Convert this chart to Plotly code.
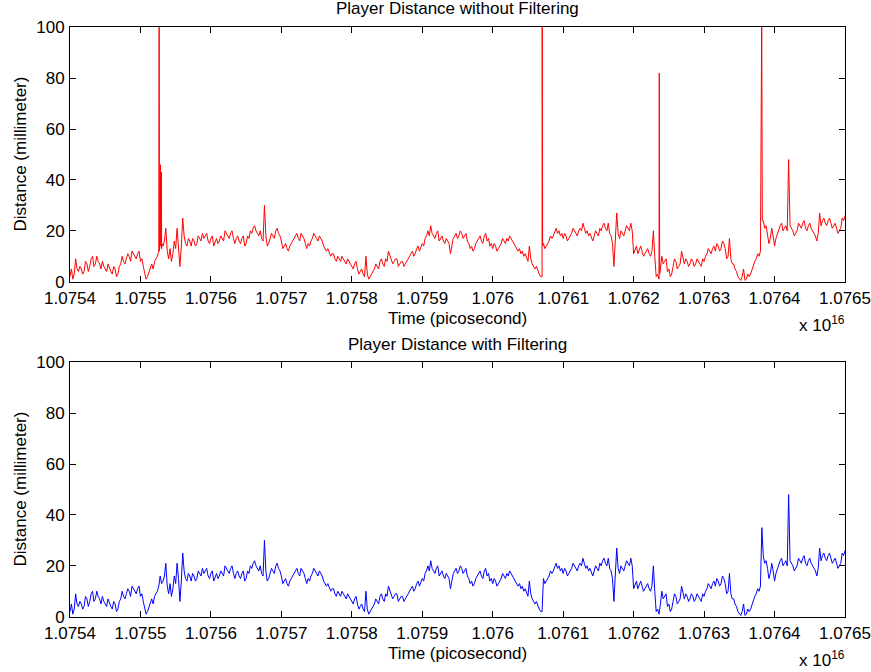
import plotly.graph_objects as go

# Time stamps in units of 1e9 picoseconds (axis shows x 10^16 ps)
time_e9ps = [
    10754000, 10754020, 10754040, 10754060, 10754080, 10754100, 10754120, 10754140, 10754160, 10754180,
    10754200, 10754220, 10754240, 10754260, 10754280, 10754300, 10754320, 10754340, 10754360, 10754380,
    10754400, 10754420, 10754440, 10754460, 10754480, 10754500, 10754520, 10754540, 10754560, 10754580,
    10754600, 10754620, 10754640, 10754660, 10754680, 10754700, 10754720, 10754740, 10754760, 10754780,
    10754800, 10754820, 10754840, 10754860, 10754880, 10754900, 10754920, 10754940, 10754960, 10754980,
    10755000, 10755020, 10755040, 10755060, 10755080, 10755100, 10755120, 10755140, 10755160, 10755180,
    10755200, 10755220, 10755240, 10755260, 10755280, 10755300, 10755320, 10755340, 10755360, 10755380,
    10755400, 10755420, 10755440, 10755460, 10755480, 10755500, 10755520, 10755540, 10755560, 10755580,
    10755600, 10755620, 10755640, 10755660, 10755680, 10755700, 10755720, 10755740, 10755760, 10755780,
    10755800, 10755820, 10755840, 10755860, 10755880, 10755900, 10755920, 10755940, 10755960, 10755980,
    10756000, 10756020, 10756040, 10756060, 10756080, 10756100, 10756120, 10756140, 10756160, 10756180,
    10756200, 10756220, 10756240, 10756260, 10756280, 10756300, 10756320, 10756340, 10756360, 10756380,
    10756400, 10756420, 10756440, 10756460, 10756480, 10756500, 10756520, 10756540, 10756560, 10756580,
    10756600, 10756620, 10756640, 10756660, 10756680, 10756700, 10756720, 10756740, 10756760, 10756780,
    10756800, 10756820, 10756840, 10756860, 10756880, 10756900, 10756920, 10756940, 10756960, 10756980,
    10757000, 10757020, 10757040, 10757060, 10757080, 10757100, 10757120, 10757140, 10757160, 10757180,
    10757200, 10757220, 10757240, 10757260, 10757280, 10757300, 10757320, 10757340, 10757360, 10757380,
    10757400, 10757420, 10757440, 10757460, 10757480, 10757500, 10757520, 10757540, 10757560, 10757580,
    10757600, 10757620, 10757640, 10757660, 10757680, 10757700, 10757720, 10757740, 10757760, 10757780,
    10757800, 10757820, 10757840, 10757860, 10757880, 10757900, 10757920, 10757940, 10757960, 10757980,
    10758000, 10758020, 10758040, 10758060, 10758080, 10758100, 10758120, 10758140, 10758160, 10758180,
    10758200, 10758220, 10758240, 10758260, 10758280, 10758300, 10758320, 10758340, 10758360, 10758380,
    10758400, 10758420, 10758440, 10758460, 10758480, 10758500, 10758520, 10758540, 10758560, 10758580,
    10758600, 10758620, 10758640, 10758660, 10758680, 10758700, 10758720, 10758740, 10758760, 10758780,
    10758800, 10758820, 10758840, 10758860, 10758880, 10758900, 10758920, 10758940, 10758960, 10758980,
    10759000, 10759020, 10759040, 10759060, 10759080, 10759100, 10759120, 10759140, 10759160, 10759180,
    10759200, 10759220, 10759240, 10759260, 10759280, 10759300, 10759320, 10759340, 10759360, 10759380,
    10759400, 10759420, 10759440, 10759460, 10759480, 10759500, 10759520, 10759540, 10759560, 10759580,
    10759600, 10759620, 10759640, 10759660, 10759680, 10759700, 10759720, 10759740, 10759760, 10759780,
    10759800, 10759820, 10759840, 10759860, 10759880, 10759900, 10759920, 10759940, 10759960, 10759980,
    10760000, 10760020, 10760040, 10760060, 10760080, 10760100, 10760120, 10760140, 10760160, 10760180,
    10760200, 10760220, 10760240, 10760260, 10760280, 10760300, 10760320, 10760340, 10760360, 10760380,
    10760400, 10760420, 10760440, 10760460, 10760480, 10760500, 10760520, 10760540, 10760560, 10760580,
    10760600, 10760620, 10760640, 10760660, 10760680, 10760700, 10760720, 10760740, 10760760, 10760780,
    10760800, 10760820, 10760840, 10760860, 10760880, 10760900, 10760920, 10760940, 10760960, 10760980,
    10761000, 10761020, 10761040, 10761060, 10761080, 10761100, 10761120, 10761140, 10761160, 10761180,
    10761200, 10761220, 10761240, 10761260, 10761280, 10761300, 10761320, 10761340, 10761360, 10761380,
    10761400, 10761420, 10761440, 10761460, 10761480, 10761500, 10761520, 10761540, 10761560, 10761580,
    10761600, 10761620, 10761640, 10761660, 10761680, 10761700, 10761720, 10761740, 10761760, 10761780,
    10761800, 10761820, 10761840, 10761860, 10761880, 10761900, 10761920, 10761940, 10761960, 10761980,
    10762000, 10762020, 10762040, 10762060, 10762080, 10762100, 10762120, 10762140, 10762160, 10762180,
    10762200, 10762220, 10762240, 10762260, 10762280, 10762300, 10762320, 10762340, 10762360, 10762380,
    10762400, 10762420, 10762440, 10762460, 10762480, 10762500, 10762520, 10762540, 10762560, 10762580,
    10762600, 10762620, 10762640, 10762660, 10762680, 10762700, 10762720, 10762740, 10762760, 10762780,
    10762800, 10762820, 10762840, 10762860, 10762880, 10762900, 10762920, 10762940, 10762960, 10762980,
    10763000, 10763020, 10763040, 10763060, 10763080, 10763100, 10763120, 10763140, 10763160, 10763180,
    10763200, 10763220, 10763240, 10763260, 10763280, 10763300, 10763320, 10763340, 10763360, 10763380,
    10763400, 10763420, 10763440, 10763460, 10763480, 10763500, 10763520, 10763540, 10763560, 10763580,
    10763600, 10763620, 10763640, 10763660, 10763680, 10763700, 10763720, 10763740, 10763760, 10763780,
    10763800, 10763820, 10763840, 10763860, 10763880, 10763900, 10763920, 10763940, 10763960, 10763980,
    10764000, 10764020, 10764040, 10764060, 10764080, 10764100, 10764120, 10764140, 10764160, 10764180,
    10764200, 10764220, 10764240, 10764260, 10764280, 10764300, 10764320, 10764340, 10764360, 10764380,
    10764400, 10764420, 10764440, 10764460, 10764480, 10764500, 10764520, 10764540, 10764560, 10764580,
    10764600, 10764620, 10764640, 10764660, 10764680, 10764700, 10764720, 10764740, 10764760, 10764780,
    10764800, 10764820, 10764840, 10764860, 10764880, 10764900, 10764920, 10764940, 10764960, 10764980,
    10765000,
]

# Filtered player distance (millimeter), one row per 1e12 ps of time
dist_filtered = [
    2, 5, 1, 3, 9, 5, 4, 6, 5, 3, 4, 8, 7, 4, 6, 9, 10, 6, 7, 10, 8, 7, 5, 8, 6, 5, 4, 7, 5, 4,
    3, 6, 5, 2, 3, 6, 7, 10, 8, 7, 9, 11, 10, 8, 12, 11, 10, 9, 11, 12,
    8, 9, 6, 4, 1, 2, 4, 6, 7, 5, 8, 9, 10, 12, 16, 13, 14, 16, 21, 12, 9, 13, 8, 11, 16, 13, 21, 15, 6, 14,
    25, 18, 15, 14, 17, 16, 14, 17, 16, 14, 15, 18, 17, 16, 19, 17, 18, 19, 16, 15,
    17, 18, 14, 16, 17, 15, 16, 18, 17, 16, 20, 19, 18, 17, 19, 20, 17, 15, 17, 18, 16, 15, 17, 18, 14, 15,
    18, 17, 20, 19, 21, 22, 20, 19, 18, 20, 17, 16, 30, 18, 14, 15, 17, 19, 18, 17, 20, 21, 19, 18,
    16, 13, 14, 15, 13, 12, 14, 15, 16, 17, 18, 19, 17, 16, 19, 18, 17, 15, 13, 15, 14, 16, 17, 19, 18, 17,
    16, 18, 17, 16, 14, 13, 12, 13, 11, 10, 11, 11, 9, 8, 10, 9, 8, 10, 9, 8, 7, 9, 8, 7,
    6, 5, 7, 8, 5, 3, 4, 5, 3, 2, 10, 3, 1, 2, 3, 4, 5, 7, 6, 5, 8, 9, 7, 6, 9, 8, 12, 10, 9, 7,
    8, 9, 9, 6, 7, 8, 8, 6, 7, 8, 9, 10, 11, 12, 10, 11, 13, 14, 12, 14,
    15, 14, 17, 18, 20, 18, 22, 19, 18, 17, 19, 20, 16, 17, 18, 16, 15, 17, 16, 15, 11, 14, 17, 18, 19, 17,
    18, 20, 19, 17, 18, 19, 16, 15, 13, 14, 12, 13, 15, 16, 17, 18, 16, 15, 18, 19, 16, 17, 14, 15,
    13, 15, 14, 12, 13, 14, 15, 17, 16, 15, 17, 16, 18, 17, 16, 15, 14, 13, 12, 13, 11, 12, 10, 11, 9, 8,
    14, 9, 7, 6, 5, 6, 4, 3, 2, 2, 15, 13, 14, 15, 16, 18, 17, 18, 20, 21, 19, 20, 18, 19,
    17, 19, 18, 16, 17, 18, 19, 21, 20, 19, 18, 20, 21, 20, 23, 21, 19, 20, 18, 19, 17, 16, 18, 20, 19, 18,
    21, 20, 22, 23, 21, 20, 23, 19, 18, 15, 6, 17, 27, 19, 17, 20, 19, 18, 20, 22, 21, 20, 23, 20,
    11, 13, 14, 11, 13, 14, 12, 10, 11, 12, 13, 11, 10, 12, 20, 10, 2, 3, 1, 5, 10, 7, 8, 9, 4, 5,
    2, 3, 6, 9, 8, 5, 6, 7, 12, 9, 7, 9, 8, 6, 7, 9, 8, 6, 7, 9, 8, 7, 6, 9,
    8, 10, 11, 13, 12, 11, 13, 14, 12, 15, 14, 12, 13, 16, 15, 13, 9, 10, 17, 9, 7, 7, 5, 4, 2, 1,
    0.5, 2, 5, 0.5, 1, 3, 2, 3, 5, 7, 8, 9, 11, 10, 12, 35, 24, 21, 22, 19, 15, 17, 21, 18,
    14, 17, 19, 20, 22, 23, 20, 21, 22, 20, 48, 22, 21, 20, 18, 19, 20, 23, 22, 21, 23, 24, 21, 20,
    22, 23, 21, 20, 19, 18, 16, 19, 27, 22, 24, 25, 23, 22, 24, 25, 23, 21, 22, 23, 21, 19, 20, 21, 25, 24,
    26,
]

# Outlier samples present only in the unfiltered recording
spike_time_e9ps = [10755265, 10755270, 10755284, 10755290, 10755298, 10755304,
                   10760702, 10760708, 10762364, 10762370, 10763818, 10763826]
spike_dist = [105, 12, 46, 14, 43, 15,
              105, 14, 82, 3, 105, 24]

x_tick_vals = [1.0754, 1.0755, 1.0756, 1.0757, 1.0758, 1.0759, 1.0760,
               1.0761, 1.0762, 1.0763, 1.0764, 1.0765]
x_tick_text = ["1.0754", "1.0755", "1.0756", "1.0757", "1.0758", "1.0759", "1.076",
               "1.0761", "1.0762", "1.0763", "1.0764", "1.0765"]
y_tick_vals = [0, 20, 40, 60, 80, 100]

assert len(time_e9ps) == len(dist_filtered), (len(time_e9ps), len(dist_filtered))

x_filt = [t / 1e7 for t in time_e9ps]
raw_pairs = sorted(zip(time_e9ps + spike_time_e9ps, dist_filtered + spike_dist))
x_raw = [t / 1e7 for t, _ in raw_pairs]
y_raw = [d for _, d in raw_pairs]

W, H = 871, 672
FONT = "Liberation Sans, Arial, Helvetica, sans-serif"

fig = go.Figure()
fig.add_trace(go.Scatter(x=x_raw, y=y_raw, mode="lines",
                         line=dict(color="#ff0000", width=1), xaxis="x", yaxis="y",
                         showlegend=False, hoverinfo="skip"))
fig.add_trace(go.Scatter(x=x_filt, y=dist_filtered, mode="lines",
                         line=dict(color="#0000ff", width=1), xaxis="x2", yaxis="y2",
                         showlegend=False, hoverinfo="skip"))

xd = [70 / W, 845 / W]
top_d = [1 - 281.7 / H, 1 - 27.3 / H]
bot_d = [1 - 616.7 / H, 1 - 362.3 / H]

tickfont = dict(family=FONT, size=17, color="black")
common_x = dict(range=[1.0754, 1.0765], tickvals=x_tick_vals, ticktext=x_tick_text,
                ticks="inside", ticklen=6, tickcolor="black", tickwidth=1,
                showline=True, linecolor="black", linewidth=1, mirror="ticks",
                showgrid=False, zeroline=False, tickfont=tickfont, domain=xd,
                ticklabelstandoff=1, automargin=False)
common_y = dict(range=[0, 100], tickvals=y_tick_vals,
                ticks="inside", ticklen=6, tickcolor="black", tickwidth=1,
                showline=True, linecolor="black", linewidth=1, mirror="ticks",
                showgrid=False, zeroline=False, tickfont=tickfont,
                ticklabelstandoff=1, automargin=False)

fig.update_layout(
    width=W, height=H,
    margin=dict(l=0, r=0, t=0, b=0, autoexpand=False),
    paper_bgcolor="white", plot_bgcolor="white",
    font=dict(family=FONT, color="black", size=17),
    xaxis=dict(common_x, anchor="y"),
    yaxis=dict(common_y, domain=top_d, anchor="x"),
    xaxis2=dict(common_x, anchor="y2"),
    yaxis2=dict(common_y, domain=bot_d, anchor="x2"),
)

def ann(text, px, py, size=17, angle=0, xanchor="center"):
    fig.add_annotation(text=text, x=px / W, y=1 - py / H, xref="paper", yref="paper",
                       xanchor=xanchor, yanchor="middle", showarrow=False, textangle=angle,
                       font=dict(family=FONT, size=size, color="black"))

offset = 335
for i, title in enumerate(["Player Distance without Filtering", "Player Distance with Filtering"]):
    dy = i * offset
    ann(title, 457.5, 9 + dy)
    ann("Time (picosecond)", 457.5, 318 + dy)
    ann("Distance (millimeter)", 20, 154.5 + dy, angle=-90)
    ann("x 10<sup>16</sup>", 797, 324 + dy, xanchor="left")

fig.write_html("out.html",
               config={"displayModeBar": False},
               post_script="document.body.style.margin='0';document.body.style.overflow='hidden';")
